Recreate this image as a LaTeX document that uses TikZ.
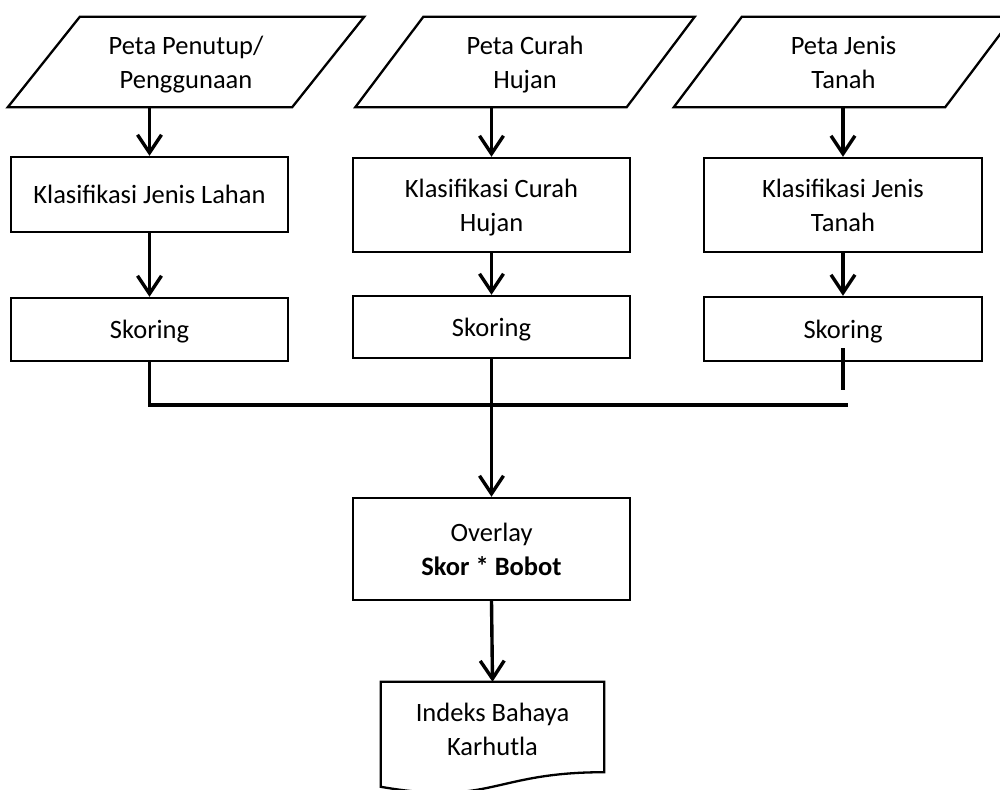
\documentclass[tikz,border=0pt]{standalone}
\usepackage{fontspec}
\setmainfont{Carlito}
\usetikzlibrary{arrows.meta}
\begin{document}
\begin{tikzpicture}[x=1pt,y=-1pt,
  txt/.style={align=center, font=\fontsize{26.5}{34}\selectfont, inner sep=0pt, text depth=0pt},
  box/.style={txt, draw, line width=2.3pt, rectangle},
  shapeline/.style={line width=2.3pt, line join=miter},
  conn/.style={line width=3.4pt},
  arr/.style={conn, -{Straight Barb[length=18pt,width=24pt]}}]
\useasboundingbox (0,0) rectangle (1000,789);

% input parallelograms (text holders)
\node[txt, minimum width=284, minimum height=90] (p1) at (186,62) {Peta Penutup/\\Penggunaan};
\node[txt, minimum width=271, minimum height=90] (p2) at (525,62) {Peta Curah\\Hujan};
\node[txt, minimum width=271, minimum height=90] (p3) at (843.5,62) {Peta Jenis\\Tanah};
\draw[shapeline] ([xshift=-36pt]p1.south west) -- ([xshift=36pt]p1.north west) -- ([xshift=36pt]p1.north east) -- ([xshift=-36pt]p1.south east) -- cycle;
\draw[shapeline] ([xshift=-34pt]p2.south west) -- ([xshift=34pt]p2.north west) -- ([xshift=34pt]p2.north east) -- ([xshift=-34pt]p2.south east) -- cycle;
\draw[shapeline] ([xshift=-34pt]p3.south west) -- ([xshift=34pt]p3.north west) -- ([xshift=34pt]p3.north east) -- ([xshift=-34pt]p3.south east) -- cycle;

% classification boxes
\node[box, minimum width=277, minimum height=75] (k1) at (149.5,194.5) {Klasifikasi Jenis Lahan};
\node[box, minimum width=277, minimum height=94] (k2) at (491.5,205) {Klasifikasi Curah\\Hujan};
\node[box, minimum width=278, minimum height=94] (k3) at (843,205) {Klasifikasi Jenis\\Tanah};

% scoring boxes
\node[box, minimum width=277, minimum height=63] (s1) at (149.5,329.5) {Skoring};
\node[box, minimum width=277, minimum height=62] (s2) at (491.5,327) {Skoring};
\node[box, minimum width=278, minimum height=64] (s3) at (843,329) {Skoring};

% overlay
\node[box, minimum width=277, minimum height=102] (ov) at (491.5,549) {Overlay\\\textbf{Skor * Bobot}};

% output document
\node[txt, minimum width=223, minimum height=94] (doc) at (492.5,729) {Indeks Bahaya\\Karhutla};
\draw[shapeline] (doc.north west) -- (doc.north east) -- ([yshift=4pt]doc.south east)
  .. controls ([yshift=4pt]doc.south) and ([yshift=-30pt]doc.south) .. ([yshift=-10.6pt]doc.south west) -- cycle;

% connectors
\draw[arr] (k1.north |- p1.south) -- (k1.north);
\draw[arr] (k2.north |- p2.south) -- (k2.north);
\draw[arr] (k3.north |- p3.south) -- (k3.north);
\draw[arr] (k1.south) -- (s1.north);
\draw[arr] (k2.south) -- (s2.north);
\draw[arr] (k3.south) -- (s3.north);

\coordinate (jend) at (848,405);
\draw[conn] (s1.south) |- (jend);
\coordinate (t1) at (843,348);
\coordinate (t2) at (843,390);
\draw[conn] (t1) -- (t2);
\draw[arr] (s2.south) -- (ov.north);
\draw[arr] (ov.south) -- (doc.north);
\end{tikzpicture}
\end{document}
